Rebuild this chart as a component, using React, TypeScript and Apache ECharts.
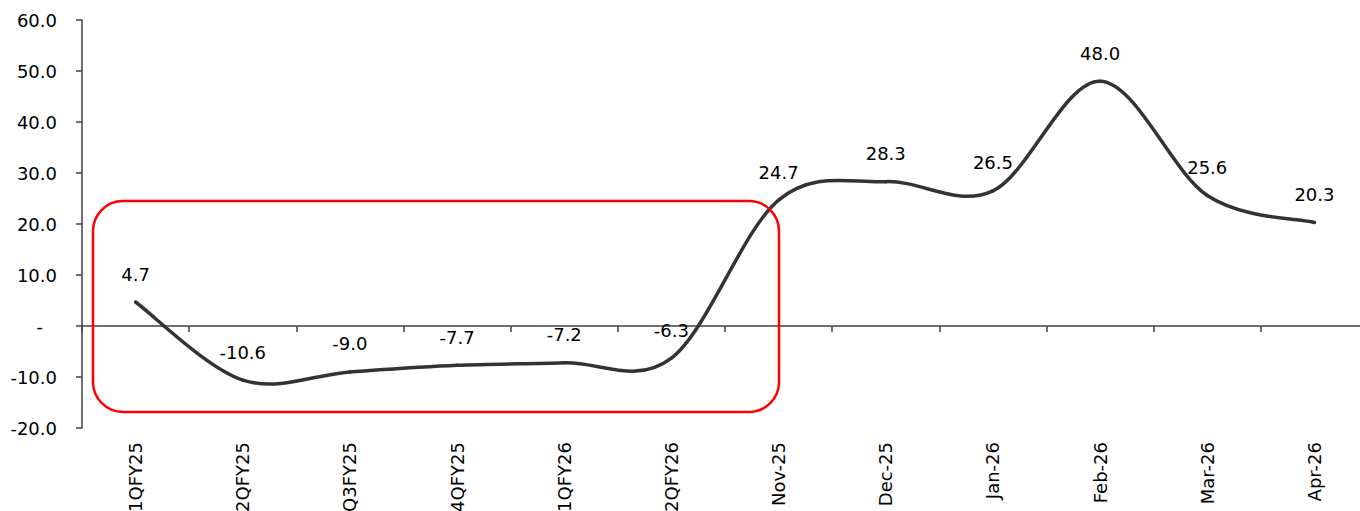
import React, { useEffect, useRef } from "react";
import * as echarts from "echarts";

const categories = ["1QFY25", "2QFY25", "Q3FY25", "4QFY25", "1QFY26", "2QFY26", "Nov-25", "Dec-25", "Jan-26", "Feb-26", "Mar-26", "Apr-26"];
const values = [4.7, -10.6, -9.0, -7.7, -7.2, -6.3, 24.7, 28.3, 26.5, 48.0, 25.6, 20.3];
const yMin = -20;
const yMax = 60;
const yStep = 10;

const FONT = "'DejaVu Sans', Verdana, sans-serif";
const LINE_COLOR = "#333333";

export default function App() {
  const ref = useRef<HTMLDivElement>(null);
  useEffect(() => {
    if (!ref.current) return;
    const chart = echarts.init(ref.current, undefined, { renderer: "svg" });
    const points = values.map((v, i) => [i, v]);
    const renderCurve = (params: any, api: any) => {
      const i = params.dataIndex;
      const n = values.length;
      if (i >= n - 1) return { type: "group", children: [] };
      const p = (k: number) => {
        const kk = Math.max(0, Math.min(n - 1, k));
        return api.coord([kk, values[kk]]);
      };
      const p0 = p(i - 1);
      const p1 = p(i);
      const p2 = p(i + 1);
      const p3 = p(i + 2);
      const t = 1 / 6;
      return {
        type: "bezierCurve",
        shape: {
          x1: p1[0],
          y1: p1[1],
          cpx1: p1[0] + (p2[0] - p0[0]) * t,
          cpy1: p1[1] + (p2[1] - p0[1]) * t,
          cpx2: p2[0] - (p3[0] - p1[0]) * t,
          cpy2: p2[1] - (p3[1] - p1[1]) * t,
          x2: p2[0],
          y2: p2[1],
        },
        style: { fill: "none", stroke: LINE_COLOR, lineWidth: 3.5, lineCap: "round" },
      };
    };
    chart.setOption({
      animation: false,
      backgroundColor: "#ffffff",
      grid: { left: 82, top: 20, width: 1286, height: 408, containLabel: false, outerBoundsMode: "none" },
      xAxis: {
        type: "category",
        data: categories,
        boundaryGap: true,
        axisLine: { onZero: true, lineStyle: { color: "#404040", width: 1.5 } },
        axisTick: { show: true, length: 6, alignWithLabel: false, lineStyle: { color: "#404040", width: 1.5 } },
        axisLabel: {
          rotate: 90,
          margin: 14,
          color: "#000",
          fontFamily: FONT,
          fontSize: 18,
          interval: 0,
        },
        splitLine: { show: false },
      },
      yAxis: {
        type: "value",
        min: yMin,
        max: yMax,
        interval: yStep,
        axisLine: { show: true, lineStyle: { color: "#404040", width: 1.5 } },
        axisTick: { show: true, length: 6, lineStyle: { color: "#404040", width: 1.5 } },
        splitLine: { show: false },
        axisLabel: {
          margin: 25,
          color: "#000",
          fontFamily: FONT,
          fontSize: 18,
          formatter: (v: number) => (v === 0 ? "{z|-}" : v.toFixed(1)),
          rich: {
            z: { padding: [0, 14, 0, 0], fontFamily: FONT, fontSize: 18, color: "#000" },
          },
        },
      },
      series: [
        {
          type: "custom",
          data: points,
          encode: { x: 0, y: 1 },
          renderItem: renderCurve,
          z: 3,
          silent: true,
        },
        {
          type: "line",
          data: values,
          symbol: "circle",
          symbolSize: 2,
          showSymbol: true,
          itemStyle: { color: LINE_COLOR },
          lineStyle: { opacity: 0, width: 0 },
          label: {
            show: true,
            position: "top",
            distance: 18,
            color: "#000",
            fontFamily: FONT,
            fontSize: 18,
            formatter: (p: any) => Number(p.value).toFixed(1),
          },
          z: 4,
        },
      ],
      graphic: [
        {
          type: "rect",
          shape: { x: 93, y: 201, width: 686, height: 211, r: 30 },
          style: { fill: "none", stroke: "#ff0000", lineWidth: 2.5 },
          z: 10,
        },
      ],
    });
    return () => chart.dispose();
  }, []);
  return (
    <div
      ref={ref}
      style={{ position: "fixed", left: 0, top: 0, width: 1360, height: 511, background: "#fff" }}
    />
  );
}
